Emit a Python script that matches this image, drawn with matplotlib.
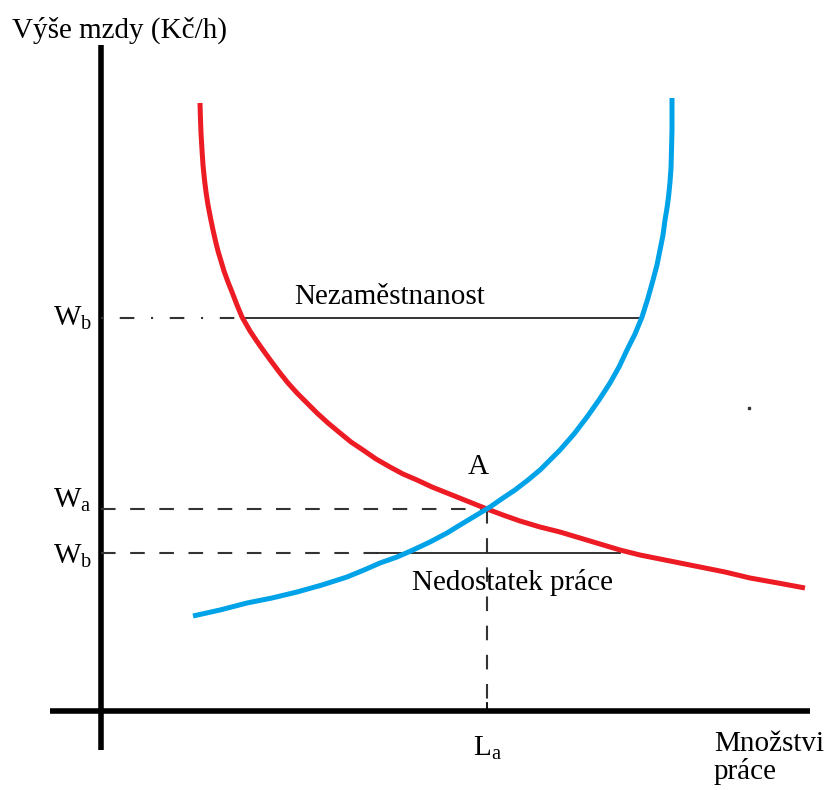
import matplotlib.pyplot as plt

plt.rcParams['font.family'] = ['Liberation Serif', 'DejaVu Serif']
plt.rcParams['mathtext.fontset'] = 'custom'
plt.rcParams['mathtext.rm'] = 'Liberation Serif'

# curves (x to the right, y downwards as in the image)
demand_x = [200, 200.5, 201, 202, 203, 204.5, 206, 208, 210.5, 213, 215.5, 218, 221,
            224, 228, 232, 237, 242, 246, 250, 256, 263, 271, 280, 288, 297, 307,
            317, 328, 340, 351, 363, 376, 390, 403, 417, 432, 447, 467, 487, 503,
            520, 540, 560, 580, 600, 620, 640, 670, 700, 725, 750, 778, 805]
demand_y = [103, 120, 133, 150, 165, 180, 192, 205, 218, 230, 241, 251, 261,
            271, 282, 292, 305, 317, 324, 331, 340, 350, 361, 373, 383, 393, 403,
            413, 423, 433, 442, 450, 459, 467, 474, 480, 487, 493, 501, 509, 515,
            521, 527, 532, 538, 544, 550, 555, 561, 567, 572, 578, 583, 588]
supply_x = [193, 220, 247, 272, 297, 322, 347, 364, 380, 397, 413, 430, 447, 460,
            470, 480, 490, 503, 515, 528, 540, 550, 560, 574, 587, 599, 610, 619,
            627, 635, 642, 648, 653, 657, 660, 663, 665, 667, 668.5, 670, 671,
            671.5, 672, 672]
supply_y = [616, 610, 603, 598, 592, 585, 577, 570, 563, 557, 550, 542, 533, 525,
            519, 513, 507, 498, 490, 480, 470, 460, 450, 434, 417, 400, 383, 367,
            350, 334, 317, 298, 280, 265, 250, 235, 220, 208, 197, 182, 168,
            150, 130, 98]

# levels
wb_high = 318
wa = 509
wb_low = 553
la = 487
origin_x, origin_y = 101, 711

fig = plt.figure(figsize=(8.26, 7.9), dpi=100)
ax = fig.add_axes([0, 0, 1, 1])
ax.set_xlim(0, 826)
ax.set_ylim(790, 0)
ax.axis('off')

# axes
ax.plot([origin_x, origin_x], [45, 750], color='black', lw=4, solid_capstyle='butt')
ax.plot([50, 810], [origin_y, origin_y], color='black', lw=4, solid_capstyle='butt')

dash_kw = dict(color='#333333', lw=1.5, dashes=(7, 7))

# upper W_b: dashed to demand, solid between the curves
ax.plot([origin_x, 242], [wb_high, wb_high], color='#333333', lw=1.5, dashes=(1, 8, 7, 8))
ax.plot([242, 642], [wb_high, wb_high], color='#222222', lw=1.3)
# W_a and L_a
ax.plot([origin_x, la], [wa, wa], **dash_kw)
ax.plot([la, la], [wa, origin_y], **dash_kw)
ax.plot([la, la], [origin_y - 8, origin_y], color='black', lw=1.3)
# lower W_b
ax.plot([origin_x, 378], [wb_low, wb_low], **dash_kw)
ax.plot([378, 620], [wb_low, wb_low], color='#222222', lw=1.3)

# curves
ax.plot(demand_x, demand_y, color='#ED1C24', lw=3.6, solid_capstyle='butt',
        solid_joinstyle='round')
ax.plot(supply_x, supply_y, color='#00A2E8', lw=3.6, solid_capstyle='butt',
        solid_joinstyle='round')

fs = 21
ax.text(12, 30, 'Výše mzdy (Kč/h)', fontsize=fs, ha='left', va='center')
ax.text(390, 297, 'Nezaměstnanost', fontsize=fs, ha='center', va='center')
ax.text(478, 467, 'A', fontsize=fs, ha='center', va='center')
ax.text(513, 583, 'Nedostatek práce', fontsize=fs, ha='center', va='center')
ax.text(92, 318, r'W$_\mathrm{b}$', fontsize=fs, ha='right', va='center')
ax.text(92, 500, r'W$_\mathrm{a}$', fontsize=fs, ha='right', va='center')
ax.text(92, 556, r'W$_\mathrm{b}$', fontsize=fs, ha='right', va='center')
ax.text(487, 748, r'L$_\mathrm{a}$', fontsize=fs, ha='center', va='center')
ax.text(714, 758, 'Množstvi\npráce', fontsize=fs, ha='left', va='center', linespacing=1.05)
ax.plot([749], [408], marker='s', ms=1.5, color='#333333')

fig.savefig('out.png', dpi=100)
